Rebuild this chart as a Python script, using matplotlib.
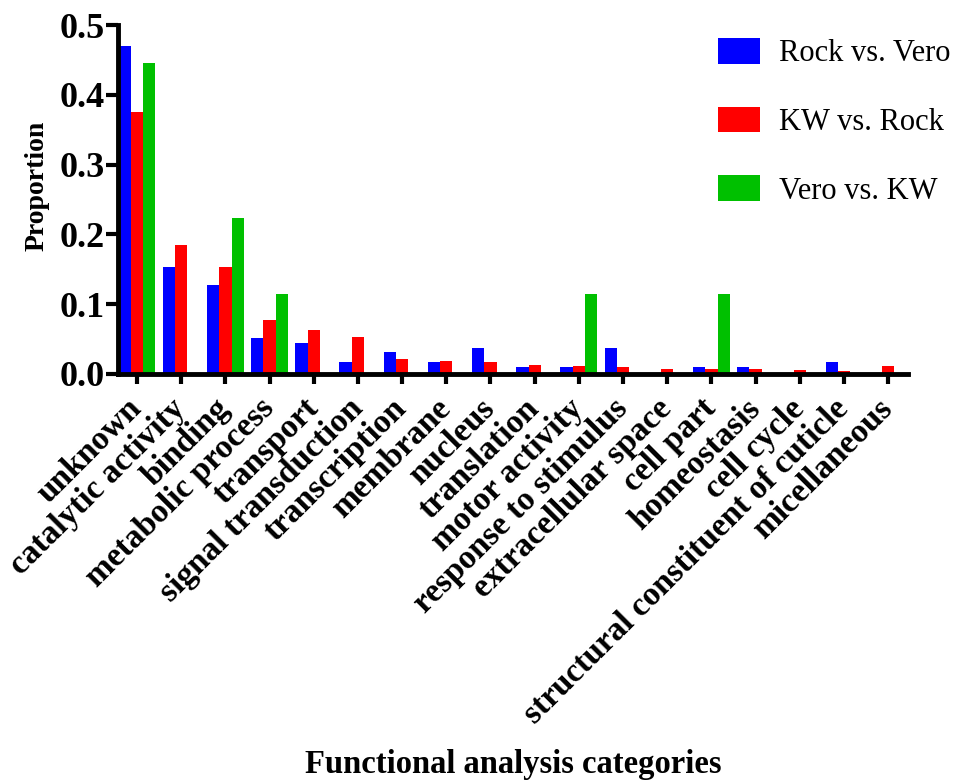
import matplotlib
matplotlib.use("Agg")
import matplotlib.pyplot as plt
import matplotlib.transforms as mtransforms
import numpy as np

categories = ["unknown", "catalytic activity", "binding", "metabolic process",
              "transport", "signal transduction", "transcription", "membrane",
              "nucleus", "translation", "motor activity", "response to stimulus",
              "extracellular space", "cell part", "homeostasis", "cell cycle",
              "structural constituent of cuticle", "micellaneous"]

rock_vs_vero = [0.470, 0.154, 0.127, 0.051, 0.044, 0.017, 0.031, 0.017, 0.037,
                0.010, 0.010, 0.037, 0.0, 0.010, 0.010, 0.0, 0.017, 0.0]
kw_vs_rock = [0.376, 0.185, 0.153, 0.077, 0.063, 0.053, 0.022, 0.019, 0.017,
              0.013, 0.011, 0.010, 0.007, 0.007, 0.007, 0.006, 0.005, 0.012]
vero_vs_kw = [0.445, 0.0, 0.224, 0.114, 0.0, 0.0, 0.0, 0.0, 0.0,
              0.0, 0.114, 0.0, 0.0, 0.114, 0.0, 0.0, 0.0, 0.0]

series_names = ["Rock vs. Vero", "KW vs. Rock", "Vero vs. KW"]
colors = ["#0000FF", "#FF0000", "#00C000"]

plt.rcParams['font.family'] = ['Liberation Serif', 'DejaVu Serif']

fig = plt.figure(figsize=(9.65, 7.82), dpi=100)
ax = fig.add_axes([118/965, 1-374/782, (908-118)/965, (374-25)/782])

x = np.arange(len(categories))
w = 0.278
handles = []
for i, (vals, c, name) in enumerate(zip([rock_vs_vero, kw_vs_rock, vero_vs_kw], colors, series_names)):
    b = ax.bar(x + (i-1)*w, vals, width=w, color=c, label=name, zorder=2, linewidth=0)
    handles.append(b)

ax.set_xlim(-0.43, 17.45)
ax.set_ylim(0, 0.5)
ax.set_yticks([0.0, 0.1, 0.2, 0.3, 0.4, 0.5])
ax.set_yticklabels(["0.0", "0.1", "0.2", "0.3", "0.4", "0.5"])
ax.set_xticks(x)
ax.set_xticklabels(categories, rotation=45, ha='right', va='center',
                   rotation_mode='anchor', fontweight='bold', fontsize=24)
offset = mtransforms.ScaledTranslation(3/100, -3/100, fig.dpi_scale_trans)
for lab in ax.get_xticklabels():
    lab.set_transform(lab.get_transform() + offset)

for s in ['top', 'right']:
    ax.spines[s].set_visible(False)
for s in ['left', 'bottom']:
    ax.spines[s].set_linewidth(3.5)
    ax.spines[s].set_zorder(3)

ax.tick_params(axis='y', direction='out', length=8.5, width=3, pad=1, labelsize=26)
ax.tick_params(axis='x', direction='out', length=7.5, width=3, pad=14)
for lab in ax.get_yticklabels():
    lab.set_fontweight('bold')

fig.text(37.5/965, 1-186/782, "Proportion", rotation=90, ha='center', va='center',
         fontsize=20, fontweight='bold')
fig.text(513/965, 1-764/782, "Functional analysis categories", ha='center', va='center',
         fontsize=23.5, fontweight='bold')

leg = fig.legend(handles=handles, labels=series_names, loc='upper left',
                 bbox_to_anchor=(718/965, 1-38/782), frameon=False, fontsize=22,
                 handlelength=1.37, handleheight=0.92, handletextpad=0.62,
                 labelspacing=1.25, borderpad=0, borderaxespad=0)

fig.savefig("out.png", dpi=100)
